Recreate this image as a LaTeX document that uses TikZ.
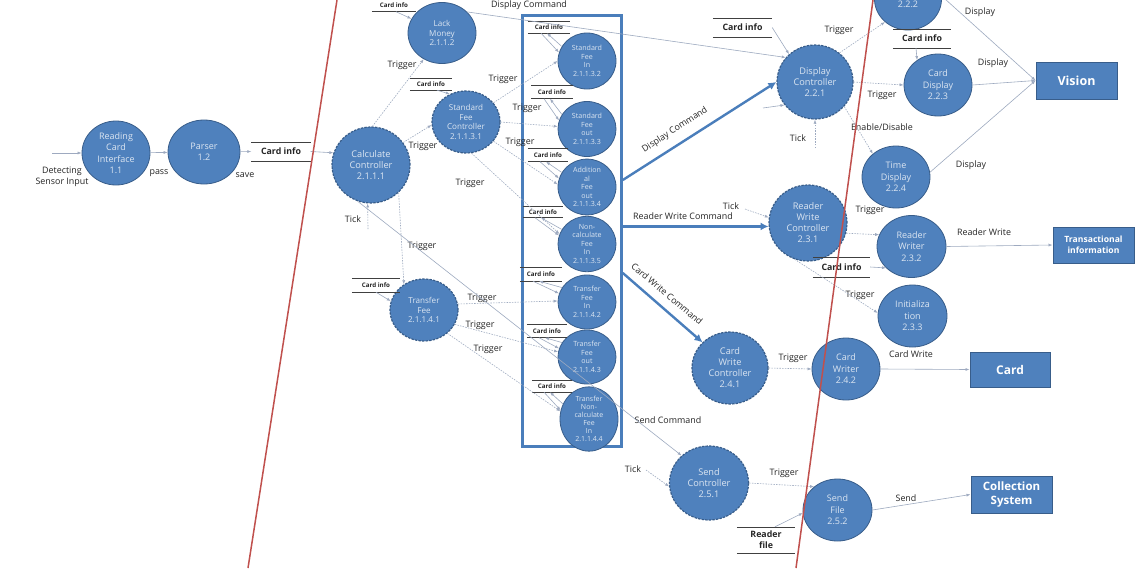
\documentclass[tikz,border=0pt]{standalone}
\usepackage{fontspec}
\setmainfont{Open Sans}
\usetikzlibrary{arrows.meta,shapes.geometric}
\definecolor{nfill}{HTML}{4F81BD}
\definecolor{nborder}{HTML}{385D8A}
\definecolor{ntext}{HTML}{DCE6F2}
\definecolor{flowc}{HTML}{9EAAC0}
\definecolor{thickc}{HTML}{4A7EBB}
\definecolor{redc}{HTML}{C0504D}
\definecolor{lblc}{HTML}{262626}
\tikzset{
 dims/.style 2 args={minimum width=#1pt, minimum height=#2pt},
 pnode/.style={ellipse, fill=nfill, draw=nborder, line width=0.8pt, text=ntext, align=center, inner sep=0pt, font=\fontsize{9}{11.5}\selectfont},
 ctrl/.style={pnode, line width=1.2pt, dash pattern=on 2.4pt off 1.2pt, font=\fontsize{9.2}{11}\selectfont},
 midn/.style={font=\fontsize{8.1}{9.5}\selectfont},
 boxn/.style={pnode, font=\fontsize{7.1}{8.5}\selectfont},
 ext/.style={rectangle, fill=nfill, draw=nborder, line width=1pt, text=white, align=center, inner sep=0pt, font=\bfseries\fontsize{12}{14}\selectfont},
 grp/.style={rectangle, draw=thickc, line width=2.6pt, inner sep=0pt},
 stline/.style={draw=black!75, line width=0.6pt, -},
 sstore/.style={inner sep=0pt, text=lblc, align=center, font=\bfseries\fontsize{6.2}{7}\selectfont,
   append after command={(\tikzlastnode.north west) edge[stline] (\tikzlastnode.north east)
                         (\tikzlastnode.south west) edge[stline] (\tikzlastnode.south east)}},
 bstore/.style={sstore, font=\bfseries\fontsize{8.8}{11}\selectfont},
 lbl/.style={inner sep=0pt, text=lblc, font=\fontsize{8.9}{10.5}\selectfont, align=center},
 flow/.style={draw=flowc, line width=0.6pt, -{Latex[length=4pt,width=3pt]}},
 trig/.style={flow, dash pattern=on 1.5pt off 1.2pt},
 fat/.style={draw=thickc, line width=2.4pt, -{Latex[length=8pt,width=8pt]}},
 redl/.style={draw=redc, line width=1.5pt},
}
\begin{document}
\begin{tikzpicture}[x=1pt,y=-1pt]
\useasboundingbox (0,0) rectangle (1140,568);
\clip (0,0) rectangle (1140,568);
\fill[white] (0,0) rectangle (1140,568);

% group box
\node[grp, minimum width=99pt, minimum height=431pt] (grp) at (572,231) {};

% left part
\coordinate (sens) at (52,153);
\node[pnode, dims={68}{64}] (rci) at (116,153) {Reading\\Card\\Interface\\1.1};
\node[pnode, dims={72}{64}] (par) at (204,152) {Parser\\1.2};
\node[bstore, dims={59}{19}] (s0) at (281,151.5) {Card info};
\node[lbl] (ldet) at (62,177) {Detecting\\Sensor Input};
\node[lbl] (lpass) at (159,173) {pass};
\node[lbl] (lsave) at (245,175) {save};

\node[ctrl, dims={78}{76}] (cc) at (371,165) {Calculate\\Controller\\2.1.1.1};
\coordinate (cctick) at (368,229);
\node[lbl] (ltick1) at (353,219) {Tick};
\node[pnode, midn, dims={68}{61}] (lack) at (442,33) {Lack\\Money\\2.1.1.2};
\node[sstore, dims={44}{13}] (s1) at (394,5) {Card info};
\node[ctrl, midn, dims={68}{62}] (sfc) at (466,122) {Standard\\Fee\\Controller\\2.1.1.3.1};
\node[sstore, dims={42}{12}] (s2) at (431,84) {Card info};
\node[ctrl, midn, dims={68}{62}] (tf) at (424,310) {Transfer\\Fee\\2.1.1.4.1};
\node[sstore, dims={48}{14}] (s3) at (376,285) {Card info};

% nodes in the group box
\node[boxn, dims={58}{56}] (n1) at (587,61) {Standard\\Fee\\In\\2.1.1.3.2};
\node[boxn, dims={58}{55}] (n2) at (587,129) {Standard\\Fee\\out\\2.1.1.3.3};
\node[boxn, dims={58}{54}] (n3) at (587,187) {Addition\\al\\Fee\\out\\2.1.1.3.4};
\node[boxn, dims={58}{55}] (n4) at (587,244) {Non-\\calculate\\Fee\\In\\2.1.1.3.5};
\node[boxn, dims={58}{54}] (n5) at (587,302) {Transfer\\Fee\\In\\2.1.1.4.2};
\node[boxn, dims={58}{54}] (n6) at (587,357) {Transfer\\Fee\\out\\2.1.1.4.3};
\node[boxn, font=\fontsize{7}{8}\selectfont, dims={58}{53}] (n7) at (589,419) {Transfer\\Non-\\calculate\\Fee\\In\\2.1.1.4.4};
\node[sstore, dims={42}{12}] (s4) at (549,27) {Card info};
\node[sstore, dims={41}{13}] (s5) at (552,92) {Card info};
\node[sstore, dims={40}{13}] (s6) at (548,155) {Card info};
\node[sstore, dims={40}{11}] (s7) at (543,212) {Card info};
\node[sstore, dims={42}{14}] (s8) at (541,274) {Card info};
\node[sstore, dims={40}{13}] (s9) at (547,331) {Card info};
\node[sstore, dims={40}{12}] (s10) at (552,386) {Card info};

% right part
\node[ctrl, dims={76}{74}] (dc) at (815,82) {Display\\Controller\\2.2.1};
\node[bstore, dims={59}{19}] (sdc) at (742.5,27.5) {Card info};
\coordinate (dcin) at (763,108);
\coordinate (dctick) at (815,148);
\node[pnode, dims={67}{62}] (n222) at (908,-1) {\phantom{0}\\2.2.2};
\node[bstore, dims={58}{19}] (scd) at (922,38.5) {Card info};
\node[pnode, dims={68}{62}] (cd) at (938,85) {Card\\Display\\2.2.3};
\node[pnode, dims={68}{62}] (td) at (896,177) {Time\\Display\\2.2.4};
\node[ext, font=\bfseries\fontsize{12.5}{14}\selectfont, dims={81}{37}] (vis) at (1076.5,80.5) {Vision};

\node[ctrl, dims={78}{76}] (rwc) at (808,223) {Reader\\Write\\Controller\\2.3.1};
\coordinate (rwtick) at (745,209);
\node[bstore, dims={57}{20}] (srw) at (841.5,267) {Card info};
\node[pnode, dims={69}{62}] (rw) at (911.5,246.5) {Reader\\Writer\\2.3.2};
\node[pnode, dims={69}{62}] (ini) at (912.5,316) {Initializa\\tion\\2.3.3};
\node[ext, font=\bfseries\fontsize{8.6}{11}\selectfont, dims={81}{36}] (tr) at (1093.5,245) {Transactional\\information};

\node[ctrl, dims={76}{72}] (cwc) at (730,368) {Card\\Write\\Controller\\2.4.1};
\node[pnode, dims={68}{62}] (cw) at (846,369) {Card\\Writer\\2.4.2};
\node[ext, dims={80}{35}] (card) at (1010,369.5) {Card};

\node[ctrl, dims={79}{74}] (sc) at (709,483) {Send\\Controller\\2.5.1};
\coordinate (sctick) at (646,470);
\node[pnode, dims={69}{62}] (sf) at (837.5,510) {Send\\File\\2.5.2};
\node[bstore, dims={58}{26}] (srf) at (766,540) {Reader\\file};
\node[ext, font=\bfseries\fontsize{11.5}{14}\selectfont, dims={81}{37}] (col) at (1011.5,494.5) {Collection\\System};

% labels
\node[lbl] (ldc1) at (529,5) {Display Command};
\node[lbl] (lt1) at (402,65) {Trigger};
\node[lbl] (lt2) at (423,146) {Trigger};
\node[lbl] (lt3) at (503,79) {Trigger};
\node[lbl] (lt4) at (527,108) {Trigger};
\node[lbl] (lt5) at (520,142) {Trigger};
\node[lbl] (lt6) at (470,183) {Trigger};
\node[lbl] (lt7) at (422,246) {Trigger};
\node[lbl] (lt8) at (482,298) {Trigger};
\node[lbl] (lt9) at (480,325) {Trigger};
\node[lbl] (lt10) at (488,349) {Trigger};
\node[lbl] (lsend) at (668,420) {Send Command};
\node[lbl, rotate=33] (ldc2) at (675,130) {Display Command};
\node[lbl] (lrwc) at (683,216) {Reader Write Command};
\node[lbl, rotate=-40] (lcwc) at (667,294) {Card Write Command};
\node[lbl] (lt11) at (839,30) {Trigger};
\node[lbl] (lt12) at (882,95) {Trigger};
\node[lbl] (ltick2) at (798,138) {Tick};
\node[lbl] (len) at (882,127) {Enable/Disable};
\node[lbl] (ld1) at (980,12) {Display};
\node[lbl] (ld2) at (993,63) {Display};
\node[lbl] (ld3) at (971,165) {Display};
\node[lbl] (ltick3) at (731,206) {Tick};
\node[lbl] (lt13) at (870,210) {Trigger};
\node[lbl] (lt14) at (860,295) {Trigger};
\node[lbl] (lrw) at (984,232) {Reader Write};
\node[lbl] (lt15) at (793,358) {Trigger};
\node[lbl] (lcw) at (911,354) {Card Write};
\node[lbl] (ltick4) at (633,469) {Tick};
\node[lbl] (lt16) at (784,473) {Trigger};
\node[lbl] (lsnd) at (906,498) {Send};

% connectors, left
\draw[flow] (sens) -- (rci);
\draw[flow] (rci) -- (par);
\draw[flow] (par) -- (s0.west);
\draw[flow] (s0.east) -- (cc.162);
\draw[trig] (cctick) -- (cc.265);
\draw[trig] (cc.88) -- (lack.235);
\draw[trig] (cc.35) -- (sfc.185);
\draw[trig] (cc.-45) -- (tf.128);
\draw[flow] (cc.-110) -- (sc.135);
\draw[flow] ([xshift=2pt]s1.south) -- (lack.155);
\draw[flow] ([xshift=6pt]s2.south) -- (sfc.120);
\draw[flow] (s3.south) -- (tf.165);
\draw[flow] (lack.40) -- (dc.140);
\draw[trig] (sfc.35) -- (n1.180);
\draw[trig] (sfc.0) -- (n2.175);
\draw[trig] (sfc.-35) -- (n3.175);
\draw[trig] (sfc.-80) -- (n4.160);
\draw[trig] (tf.10) -- (n5.178);
\draw[trig] (tf.-25) -- (n6.170);
\draw[trig] (tf.-45) -- (n7.165);

% card info pairs in the box
\foreach \s/\n in {s4/n1,s5/n2,s6/n3,s7/n4,s8/n5,s9/n6,s10/n7}{
  \draw[flow] (\n.150) -- ([xshift=-2pt]\s.south);
  \draw[flow] ([xshift=-8pt]\s.south) -- (\n.163);
}

% thick commands
\draw[fat] ([yshift=51pt]grp.east) -- (dc.west);
\draw[fat] (grp.east |- rwc.185) -- (rwc.185);
\draw[fat] ([yshift=-42pt]grp.east) -- (cwc.137);

% right connectors
\draw[flow] (sdc.east) -- (dc.133);
\draw[flow] (dcin) -- (dc.217);
\draw[trig] (dctick) -- (dc.south);
\draw[trig] (dc.50) -- (n222.225);
\draw[trig] (dc.east) -- (cd.west);
\draw[trig] (dc.-40) -- (td.135);
\draw[flow] ([xshift=-6pt]scd.south) -- (cd.130);
\draw[flow] (n222.5) -- (vis.west);
\draw[flow] (cd.east) -- (vis.west);
\draw[flow] (td.8) -- (vis.west);

\draw[trig] (rwtick) -- (rwc.172);
\draw[trig] (rwc.-15) -- (rw.160);
\draw[trig] (rwc.-110) -- (ini.175);
\draw[flow] (srw.east) -- (rw.220);
\draw[flow] (rw.east) -- (tr.west);

\draw[trig] (cwc.east) -- (cw.west);
\draw[flow] (cw.east) -- (card.west);

\draw[trig] (sctick) -- (sc.185);
\draw[trig] (sc.east) -- (sf.135);
\draw[flow] ([xshift=9pt]srf.north) -- (sf.185);
\draw[flow] (sf.east) -- (col.west);

% red boundary lines
\coordinate (r1a) at (337,0);
\coordinate (r1b) at (248,568);
\coordinate (r2a) at (873,0);
\coordinate (r2b) at (796,568);
\draw[redl] (r1a) -- (r1b);
\draw[redl] (r2a) -- (r2b);
\end{tikzpicture}
\end{document}
